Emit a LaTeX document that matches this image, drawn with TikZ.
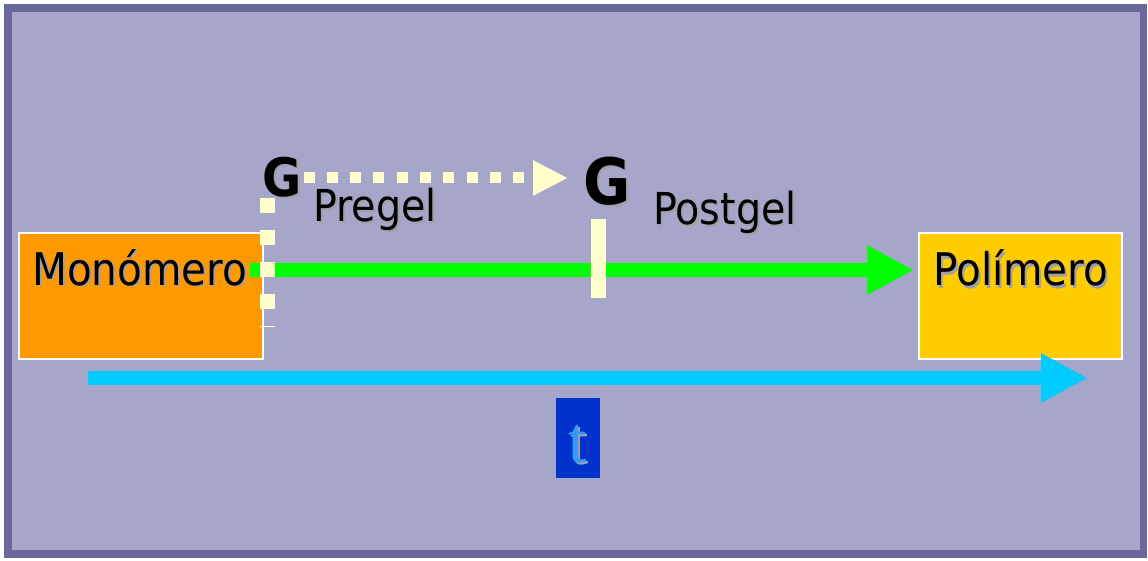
\documentclass[tikz,border=0pt]{standalone}
\usepackage{fontspec}
\setmainfont{DejaVu Sans}[FakeStretch=0.9]
\newfontfamily\serifface{Liberation Serif}
\usetikzlibrary{arrows.meta}

\definecolor{framecol}{HTML}{68689C}
\definecolor{fieldcol}{HTML}{A6A6CA}
\definecolor{monocol}{HTML}{FF9900}
\definecolor{policol}{HTML}{FFCC00}
\definecolor{reactcol}{HTML}{00FF00}
\definecolor{timecol}{HTML}{00CCFF}
\definecolor{creamcol}{HTML}{FFFFCC}
\definecolor{tboxcol}{HTML}{0033CC}
\definecolor{tcol}{HTML}{3399FF}
\definecolor{shadecol}{HTML}{A0A0A8}

\tikzset{
  box/.style={draw=white, line width=1.5pt, minimum width=244pt, minimum height=126pt, inner sep=0pt},
  word/.style={inner sep=0pt, anchor=base west, font=\fontsize{45}{54}\selectfont},
  label/.style={inner sep=0pt, anchor=base west, font=\fontsize{44}{52}\selectfont},
  bigG/.style={inner sep=0pt, anchor=base west, font=\bfseries\fontsize{#1}{#1}\selectfont},
  shade/.style={text=shadecol},
  bararrow/.style={line width=14pt, -{Triangle[length=47pt, width=46pt]}},
}

\begin{document}
\begin{tikzpicture}[x=1pt, y=-1pt]
  \useasboundingbox (0,0) rectangle (1148,561);
  % frame and field
  \fill[white] (0,0) rectangle (1148,561);
  \fill[framecol] (4,4) rectangle (1147,558);
  \fill[fieldcol] (12,12) rectangle (1140,550);

  % end-state boxes
  \node[box, fill=monocol] (mono) at (141,296) {};
  \node[box, fill=policol, minimum width=203pt] (poli) at (1020.5,296) {};

  % reaction arrow
  \coordinate (gs) at (250,270);
  \draw[bararrow, draw=reactcol, fill=reactcol] (gs) -- ([xshift=-4pt]poli.west |- gs);

  % gel point marker
  \node[fill=creamcol, minimum width=15pt, minimum height=79pt, inner sep=0pt] (gelbar) at (598.5,258.5) {};

  % pregel boundary
  \coordinate (pb1) at (267,198);
  \coordinate (pb2) at (267,327);
  \draw[creamcol, line width=15pt, dash pattern=on 15pt off 17pt] (pb1) -- (pb2);

  % labels
  \node[word, shade] (monoS) at (34,287) {Monómero};
  \node[word] (monoT) at (32,285) {Monómero};
  \node[word, shade] (poliS) at (935,288) {Polímero};
  \node[word] (poliT) at (933,286) {Polímero};

  \node[bigG=53, shade] (G1S) at (264,199) {G};
  \node[bigG=53] (G1) at (262,197) {G};
  \node[bigG=64, shade] (G2S) at (585,207) {G};
  \node[bigG=64] (G2) at (583,205) {G};

  \node[label, shade] (preS) at (315,224) {Pregel};
  \node[label] (pre) at (313,222) {Pregel};
  \node[label, shade] (postS) at (655,227) {Postgel};
  \node[label] (post) at (653,225) {Postgel};

  % pregel to postgel transition
  \draw[creamcol, line width=11pt, dash pattern=on 11pt off 12.3pt,
        -{Triangle[length=35pt, width=33pt]}]
    ([xshift=2pt]G1.east |- 0,178) -- ([xshift=-15pt]G2.west |- 0,178);

  % time axis
  \coordinate (ts) at (88,378);
  \coordinate (te) at (1088,378);
  \draw[bararrow, draw=timecol, fill=timecol] (ts) -- (te);

  \node[fill=tboxcol, minimum width=44pt, minimum height=80pt, inner sep=0pt] (tbox) at (578,438) {};
  \node[inner sep=0pt, text=shadecol, font=\serifface\fontsize{66}{66}\selectfont, anchor=base] (tS) at (580,464) {t};
  \node[inner sep=0pt, text=tcol, font=\serifface\fontsize{66}{66}\selectfont, anchor=base] (tT) at (578,462) {t};
\end{tikzpicture}
\end{document}
